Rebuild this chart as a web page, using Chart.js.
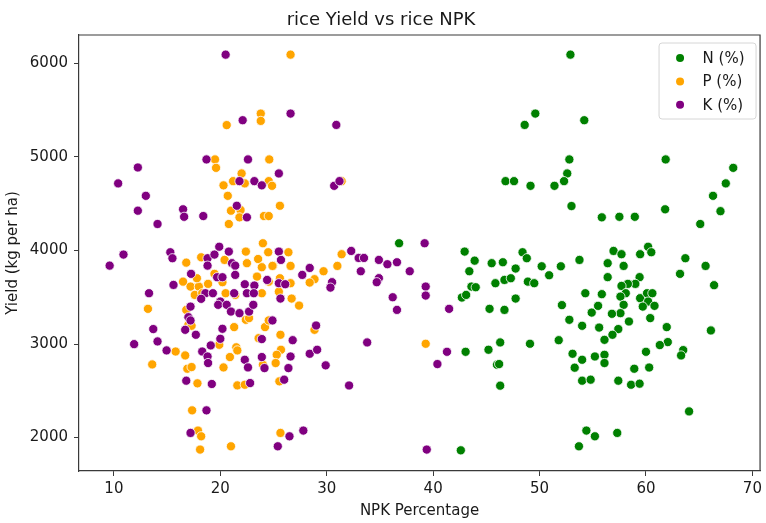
<!DOCTYPE html>
<html lang="en">
<head>
  <meta charset="UTF-8">
  <title>rice Yield vs rice NPK</title>
  <script src="https://cdn.jsdelivr.net/npm/chart.js"></script>
  <style>
    html, body { margin: 0; padding: 0; background: #fff; }
    canvas { display: block; }
  </style>
</head>
<body>
  <canvas id="npkChart" width="766" height="523"></canvas>

  <script>
    // N (%) vs yield
    const nX = [52.9, 49.6, 48.6, 54.2, 52.8, 52.6, 52.3, 51.4, 46.8, 47.6, 49.15, 53.0, 55.85, 57.5, 58.95,
      61.85, 68.2, 67.5, 66.3, 67.0, 61.8, 65.1, 36.8, 42.96, 43.9, 43.4, 43.6, 44.0, 42.7, 43.1,
      45.5, 46.55, 45.85, 46.7, 47.3, 47.75, 48.4, 48.8, 48.9, 49.5, 50.2, 50.9, 52.0, 53.75, 56.4,
      56.4, 45.3, 46.7, 47.75, 52.1, 54.3, 55.85, 54.9, 55.5, 52.8, 54.0, 55.6, 56.1, 43.05, 45.2,
      46.3, 49.1, 51.8, 46.0, 46.2, 46.3, 53.1, 54.0, 53.3, 55.2, 56.1, 56.1, 54.0, 54.8, 54.4,
      55.2, 53.7, 42.6, 56.95, 57.7, 57.9, 59.45, 60.2, 60.5, 63.7, 63.2, 65.6, 66.4, 59.4, 59.0,
      58.3, 57.7, 58.1, 57.6, 57.9, 57.6, 56.8, 59.45, 60.1, 60.6, 60.2, 59.7, 60.8, 60.4, 61.95,
      62.05, 61.3, 58.4, 57.4, 56.85, 66.1, 60.0, 60.3, 58.9, 58.6, 59.4, 57.4, 63.5, 63.3, 64.05, 57.3];
    const nY = [6093, 5463, 5342, 5392, 4973, 4823, 4741, 4691, 4741, 4741, 4691, 4475, 4354, 4360, 4360,
      4973, 4883, 4717, 4584, 4420, 4440, 4283, 4077, 3988, 3891, 3778, 3614, 3607, 3497, 3525,
      3864, 3874, 3650, 3685, 3703, 3807, 3981, 3917, 3667, 3650, 3831, 3735, 3831, 3899, 3864,
      3715, 3376, 3365, 3486, 3416, 3543, 3533, 3336, 3408, 3259, 3195, 3176, 3045, 2917, 2939,
      3017, 3003, 3041, 2779, 2786, 2555, 2896, 2832, 2747, 2867, 2885, 2797, 2608, 2619, 2075,
      2014, 1907, 1864, 3995, 3960, 3835, 3960, 4040, 3981, 3917, 3750, 3835, 3629, 3715, 3643,
      3643, 3621, 3543, 3507, 3419, 3330, 3323, 3490, 3543, 3543, 3454, 3400, 3408, 3277, 3181,
      3021, 2989, 3241, 3160, 3099, 3145, 2917, 2749, 2736, 2565, 2576, 2608, 2935, 2878, 2280, 2050];

    // P (%) vs yield
    const pX = [26.6, 23.8, 23.8, 20.6, 19.5, 19.6, 24.6, 22.0, 21.2, 20.3, 22.3, 24.55, 24.86, 20.7, 21.0,
      21.9, 21.8, 20.8, 24.1, 24.55, 25.6, 31.4, 26.4, 26.6, 31.4, 31.0, 29.7, 28.85, 28.4, 26.7,
      27.4, 25.5, 28.85, 25.65, 25.7, 39.3, 25.65, 16.8, 18.2, 20.4, 22.5, 22.4, 23.55, 23.9, 24.96,
      24.5, 16.5, 17.2, 17.98, 17.8, 18.85, 19.45, 20.2, 23.45, 24.55, 25.6, 26.6, 13.2, 17.6, 18.3,
      20.5, 21.4, 23.9, 16.8, 17.0, 17.3, 22.4, 22.7, 21.3, 24.2, 24.55, 19.9, 21.5, 21.6, 20.9,
      15.8, 16.7, 13.6, 16.9, 17.3, 20.3, 24.0, 23.6, 25.3, 25.2, 25.55, 17.85, 21.6, 22.3, 17.35,
      17.9, 18.2, 18.1, 21.0, 24.0, 24.9];
    const pY = [6093, 5463, 5385, 5340, 4973, 4883, 4973, 4823, 4741, 4696, 4717, 4741, 4691, 4584, 4425,
      4432, 4354, 4283, 4368, 4368, 4478, 4741, 3981, 3835, 3960, 3835, 3778, 3693, 3657, 3486,
      3411, 3560, 3152, 3099, 2939, 3003, 2050, 3870, 3927, 3899, 3864, 3988, 3909, 3821, 3838,
      3981, 3667, 3614, 3614, 3703, 3643, 3750, 3661, 3721, 3667, 3703, 3650, 3376, 3525, 3543,
      3543, 3525, 3543, 3365, 3205, 3195, 3259, 3277, 3181, 3181, 3252, 2992, 2965, 2932, 2861,
      2920, 2878, 2782, 2736, 2754, 2750, 2779, 3063, 2885, 2797, 2601, 2580, 2558, 2565, 2291,
      2075, 2014, 1872, 1907, 4077, 3835];

    // K (%) vs yield
    const kX = [20.5, 22.1, 26.6, 30.9, 18.7, 22.6, 12.25, 10.4, 13.0, 12.25, 14.1, 16.5, 16.6, 18.4, 21.8,
      23.2, 23.9, 25.5, 21.55, 22.5, 30.7, 31.2, 39.2, 25.5, 25.7, 32.3, 33.0, 33.5, 34.9, 35.7,
      36.6, 37.8, 28.4, 27.7, 30.5, 30.35, 33.2, 34.9, 34.7, 39.3, 39.3, 36.2, 36.6, 41.5, 25.5,
      26.1, 25.65, 29.0, 26.8, 33.8, 26.6, 26.4, 26.0, 28.4, 29.1, 29.9, 32.1, 41.3, 40.4, 26.5,
      27.8, 25.4, 39.4, 9.6, 10.9, 15.3, 15.5, 18.8, 19.45, 18.8, 20.8, 21.1, 21.4, 17.25, 15.6,
      19.7, 20.2, 21.4, 22.3, 23.2, 24.4, 13.3, 18.6, 19.3, 21.3, 22.5, 23.15, 18.2, 20.0, 19.8,
      17.2, 20.6, 21.0, 21.8, 22.7, 23.1, 17.0, 17.2, 16.7, 17.7, 24.9, 20.2, 20.0, 19.1, 13.7,
      14.1, 14.95, 11.9, 18.3, 18.8, 18.85, 22.3, 22.6, 23.9, 24.15, 23.9, 16.8, 19.2, 22.8, 18.7,
      17.2, 19.9];
    const kY = [6093, 5392, 5463, 5342, 4973, 4973, 4887, 4717, 4584, 4425, 4283, 4440, 4360, 4368, 4741,
      4741, 4696, 4823, 4478, 4354, 4691, 4741, 4077, 3988, 3899, 3995, 3920, 3920, 3899, 3853,
      3874, 3778, 3813, 3739, 3661, 3603, 3778, 3704, 3661, 3614, 3518, 3500, 3365, 3376, 3650,
      3639, 3486, 3198, 3041, 3017, 2867, 2743, 2619, 2896, 2939, 2772, 2557, 2917, 2786, 2014,
      2075, 1907, 1872, 3838, 3956, 3981, 3917, 3917, 3956, 3838, 3988, 3864, 3838, 3750, 3632,
      3714, 3714, 3739, 3639, 3625, 3685, 3543, 3543, 3543, 3543, 3543, 3543, 3483, 3454, 3419,
      3400, 3419, 3347, 3330, 3347, 3419, 3287, 3252, 3152, 3099, 3252, 3163, 3056, 2985, 3160,
      3028, 2932, 2999, 2920, 2867, 2797, 2832, 2750, 2861, 2743, 3053, 2608, 2573, 2583, 2291,
      2050, 4040];

    const xTicks = [10, 20, 30, 40, 50, 60, 70];
    const yTicks = [2000, 3000, 4000, 5000, 6000];
    const seriesNames = ['N (%)', 'P (%)', 'K (%)'];
    const seriesColors = ['#008000', '#ffa500', '#800080'];

    const FONT = 'DejaVu Sans';
    const TEXT = '#1a1a1a';
    const SPINE = '#3a3a3a';

    const pts = (xs, ys) => xs.map((x, i) => ({ x: x, y: ys[i] }));

    // top + right spines like matplotlib
    const boxPlugin = {
      id: 'box',
      afterDatasetsDraw(chart) {
        const { ctx, chartArea: a } = chart;
        ctx.save();
        ctx.strokeStyle = SPINE;
        ctx.lineWidth = 1.2;
        ctx.beginPath();
        ctx.moveTo(a.left, a.top);
        ctx.lineTo(a.right, a.top);
        ctx.lineTo(a.right, a.bottom);
        ctx.stroke();
        ctx.restore();
      }
    };

    // legend inside the axes, upper right
    const legendBox = {
      id: 'legendBox',
      afterDraw(chart) {
        const { ctx, chartArea: a } = chart;
        const w = 97, h = 76;
        const x0 = a.right - 4 - w, y0 = a.top + 8;
        ctx.save();
        ctx.beginPath();
        ctx.roundRect(x0, y0, w, h, 3);
        ctx.fillStyle = 'rgba(255,255,255,0.8)';
        ctx.fill();
        ctx.strokeStyle = '#d6d6d6';
        ctx.lineWidth = 1;
        ctx.stroke();
        ctx.font = '15px "' + FONT + '"';
        ctx.textBaseline = 'middle';
        seriesNames.forEach((name, i) => {
          const cy = y0 + 15 + i * 23.4;
          ctx.beginPath();
          ctx.arc(x0 + 21, cy, 4, 0, Math.PI * 2);
          ctx.fillStyle = seriesColors[i];
          ctx.fill();
          ctx.fillStyle = TEXT;
          ctx.fillText(name, x0 + 43.5, cy + 1);
        });
        ctx.restore();
      }
    };

    new Chart(document.getElementById('npkChart'), {
      type: 'scatter',
      data: {
        datasets: [
          { label: seriesNames[0], data: pts(nX, nY), backgroundColor: seriesColors[0], order: 3 },
          { label: seriesNames[1], data: pts(pX, pY), backgroundColor: seriesColors[1], order: 2 },
          { label: seriesNames[2], data: pts(kX, kY), backgroundColor: seriesColors[2], order: 1 }
        ]
      },
      options: {
        responsive: false,
        animation: false,
        layout: { padding: { left: 0, right: 4, top: 0, bottom: 0 } },
        elements: {
          point: { radius: 4.6, hoverRadius: 4.6, borderColor: '#ffffff', borderWidth: 0.8 }
        },
        plugins: {
          legend: { display: false },
          tooltip: { enabled: false },
          title: {
            display: true,
            text: 'rice Yield vs rice NPK',
            color: TEXT,
            font: { family: FONT, size: 18, weight: 'normal' },
            padding: { top: 10, bottom: 3.4 }
          }
        },
        scales: {
          x: {
            type: 'linear',
            min: 6.72,
            max: 70.72,
            afterBuildTicks: s => { s.ticks = xTicks.map(v => ({ value: v })); },
            afterFit: s => { s.height = 52; },
            grid: { drawOnChartArea: false, drawTicks: true, tickLength: 5, color: SPINE },
            border: { color: SPINE, width: 1.2 },
            ticks: { color: TEXT, font: { family: FONT, size: 15 }, padding: 4, maxRotation: 0, callback: v => String(v) },
            title: {
              display: true, text: 'NPK Percentage', color: TEXT,
              font: { family: FONT, size: 15 }, padding: { top: 0, bottom: 3 }
            }
          },
          y: {
            type: 'linear',
            min: 1643,
            max: 6303,
            afterBuildTicks: s => { s.ticks = yTicks.map(v => ({ value: v })); },
            afterFit: s => { s.width = 79; },
            grid: { drawOnChartArea: false, drawTicks: true, tickLength: 5, color: SPINE },
            border: { color: SPINE, width: 1.2 },
            ticks: { color: TEXT, font: { family: FONT, size: 15 }, padding: 6, callback: v => String(v) },
            title: {
              display: true, text: 'Yield (kg per ha)', color: TEXT,
              font: { family: FONT, size: 15 }, padding: { top: 4.5, bottom: 0 }
            }
          }
        }
      },
      plugins: [boxPlugin, legendBox]
    });
  </script>
</body>
</html>
